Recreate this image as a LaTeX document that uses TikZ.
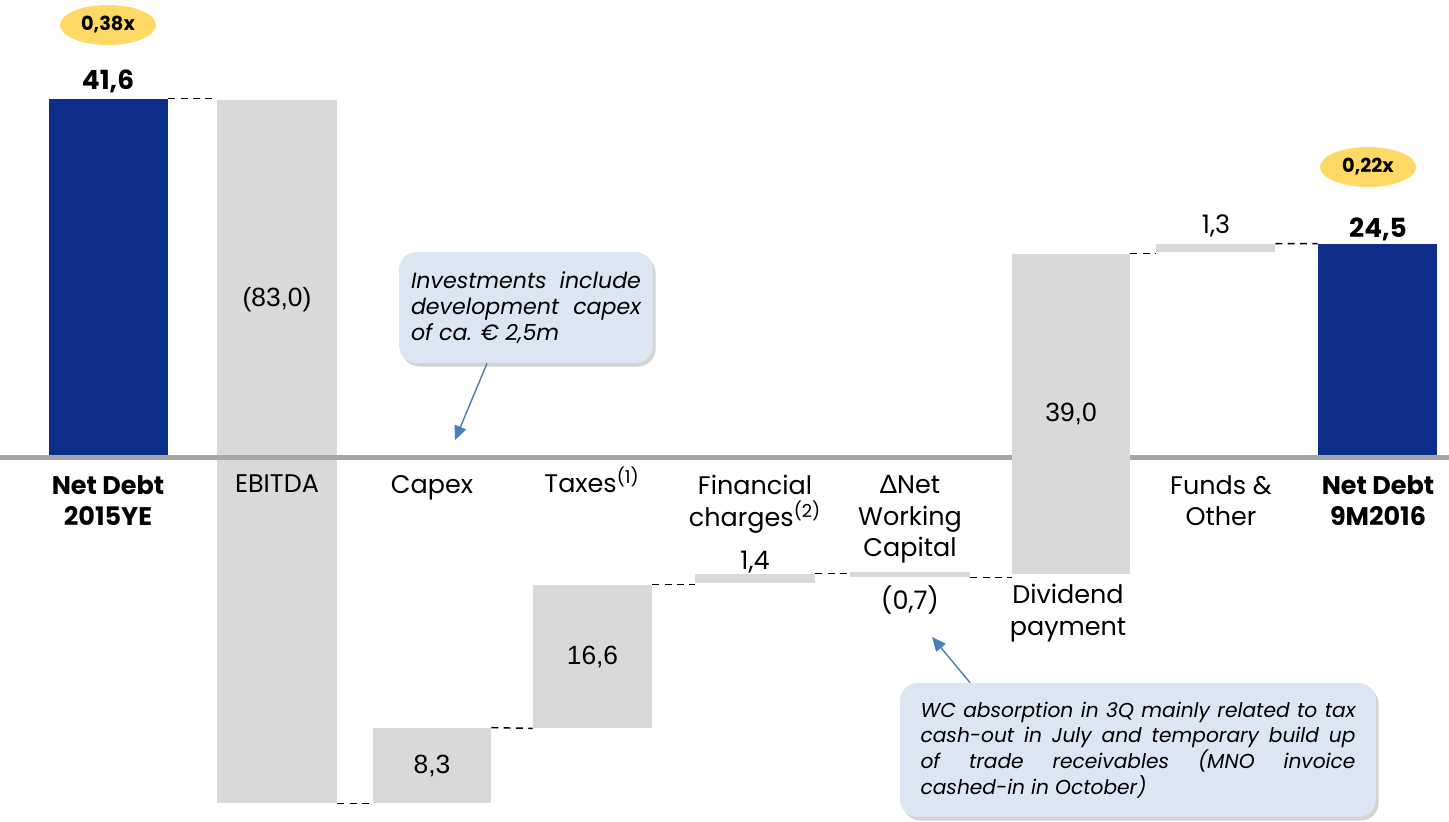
\documentclass[tikz,border=0pt]{standalone}
\usepackage{fontspec}
\setmainfont{Poppins}
\newfontfamily\arialfont{Liberation Sans}
\newfontfamily\greekfont{Lato}
\usepackage{tikz}
\usetikzlibrary{arrows.meta,shapes.geometric,positioning,fit,shadows}

\definecolor{navy}{HTML}{0E2F89}
\definecolor{barfill}{HTML}{D9D9D9}
\definecolor{badgefill}{HTML}{FFD966}
\definecolor{notefill}{HTML}{DCE6F2}
\definecolor{pointerblue}{HTML}{4A7EBB}
\definecolor{axisgray}{HTML}{A6A6A6}

\newcommand{\fnref}[1]{\textsuperscript{\smash{(#1)}}}

\tikzset{
  bar/.style={fill=barfill, draw=none, inner sep=0pt},
  total/.style={fill=navy, draw=none, inner sep=0pt},
  link/.style={black, line width=0.8pt, dash pattern=on 4pt off 3pt},
  badge/.style={ellipse, fill=badgefill, inner sep=0pt, minimum width=1.92cm,
    minimum height=0.8cm, font=\fontsize{11}{13}\selectfont\bfseries},
  category/.style={align=center, font=\fontsize{14.5}{18}\selectfont},
  inbar/.style={font=\fontsize{15}{18}\selectfont\arialfont},
  note/.style={rounded corners=10pt, fill=notefill, draw=none, inner sep=0pt,
    drop shadow={shadow xshift=1.5pt, shadow yshift=-2pt, opacity=0.35},
    font=\fontsize{11.5}{14.7}\selectfont\itshape},
  pointer/.style={pointerblue, line width=0.8pt, -{Triangle[length=8pt,width=7pt]}}
}

\begin{document}
\begin{tikzpicture}[x=0.02cm, y=-0.02cm]
\useasboundingbox (0,0) rectangle (1449,821);

% bars
\node[total, fit={(49,99) (168,457)}] (nd15) {};
\node[bar, fit={(217,100) (337,803)}] (ebitda) {};
\node[bar, fit={(373,728) (491,803)}] (capex) {};
\node[bar, fit={(533,585) (652,728)}] (taxes) {};
\node[bar, fit={(695,574) (815,583)}] (fin) {};
\node[bar, fit={(850,572) (970,577)}] (nwc) {};
\node[bar, fit={(1156,244) (1275,252)}] (funds) {};
\node[total, fit={(1318,244) (1437,457)}] (nd16) {};

% axis
\draw[axisgray, line width=2.4pt] (0,457.5) -- (1449,457.5);

\node[bar, fit={(1012,254) (1130,574)}] (div) {};

% links
\draw[link] (nd15.north east) -- (nd15.north east -| ebitda.west);
\draw[link] (ebitda.south east) -- (capex.south west);
\draw[link] (capex.north east) -- (taxes.south west);
\draw[link] (taxes.north east) -- (taxes.north east -| fin.west);
\draw[link] (fin.north east) -- (fin.north east -| nwc.west);
\draw[link] (nwc.south east) -- (nwc.south east -| div.west);
\draw[link] (div.north east) -- (div.north east -| funds.west);
\draw[link] (funds.north east) -- (nd16.north west);

% values
\node[font=\fontsize{15}{18}\selectfont\bfseries] (v15) at (108,81) {41,6};
\node[inbar] (vebitda) at (ebitda.center |- 0,300) {(83,0)};
\node[inbar] (vcapex) at (capex.center) {8,3};
\node[inbar] (vtaxes) at (taxes.center) {16,6};
\node[category] (vfin) at (755,562) {1,4};
\node[category] (vnwc) at (910,600) {(0,7)};
\node[inbar] (vdiv) at (div.center) {39,0};
\node[category] (vfunds) at (1216,226) {1,3};
\node[font=\fontsize{15}{18}\selectfont\bfseries] (v16) at (1378,229) {24,5};

% leverage
\node[badge] (lev15) at (108,25) {0,38x};
\node[badge] (lev16) at (1368,167) {0,22x};

% categories
\node[category, font=\fontsize{14.5}{18}\selectfont\bfseries, anchor=north] (c15) at (108,469) {Net Debt\\2015YE};
\node[category, anchor=north] (cebitda) at (277,469) {EBITDA};
\node[category, anchor=north] (ccapex) at (432,469) {Capex};
\node[category, anchor=north] (ctaxes) at (592,469) {Taxes\fnref{1}};
\node[category, anchor=north] (cfin) at (755,469) {Financial\\charges\fnref{2}};
\node[category, anchor=north] (cnwc) at (910,469) {{\greekfont Δ}Net\\Working\\Capital};
\node[category, anchor=north] (cdiv) at (1068,578) {Dividend\\payment};
\node[category, anchor=north] (cfunds) at (1221,469) {Funds \&\\Other};
\node[category, font=\fontsize{14.5}{18}\selectfont\bfseries, anchor=north] (c16) at (1378,469) {Net Debt\\9M2016};

% callouts
\node[note, font=\fontsize{12.6}{14.7}\selectfont\itshape, minimum width=5.08cm, minimum height=2.22cm, align=left] (capnote) at (526,307.5)
  {\parbox{4.6cm}{\makebox[4.6cm][s]{Investments include}\\
   \makebox[4.6cm][s]{development capex}\\
   of ca. € 2,5m}};
\coordinate (capexpt) at (455,440);
\draw[pointer] ([xshift=-0.78cm]capnote.south) -- (capexpt);

\node[note, minimum width=9.52cm, minimum height=2.68cm, align=left] (wcnote) at (1138,750)
  {\parbox{8.7cm}{\makebox[8.7cm][s]{WC absorption in 3Q mainly related to tax}\\
   \makebox[8.7cm][s]{cash-out in July and temporary build up}\\
   \makebox[8.7cm][s]{of trade receivables (MNO invoice}\\
   cashed-in in October)}};
\coordinate (nwcpt) at (932,637);
\draw[pointer] ([xshift=-3.36cm]wcnote.north) -- (nwcpt);
\end{tikzpicture}
\end{document}
